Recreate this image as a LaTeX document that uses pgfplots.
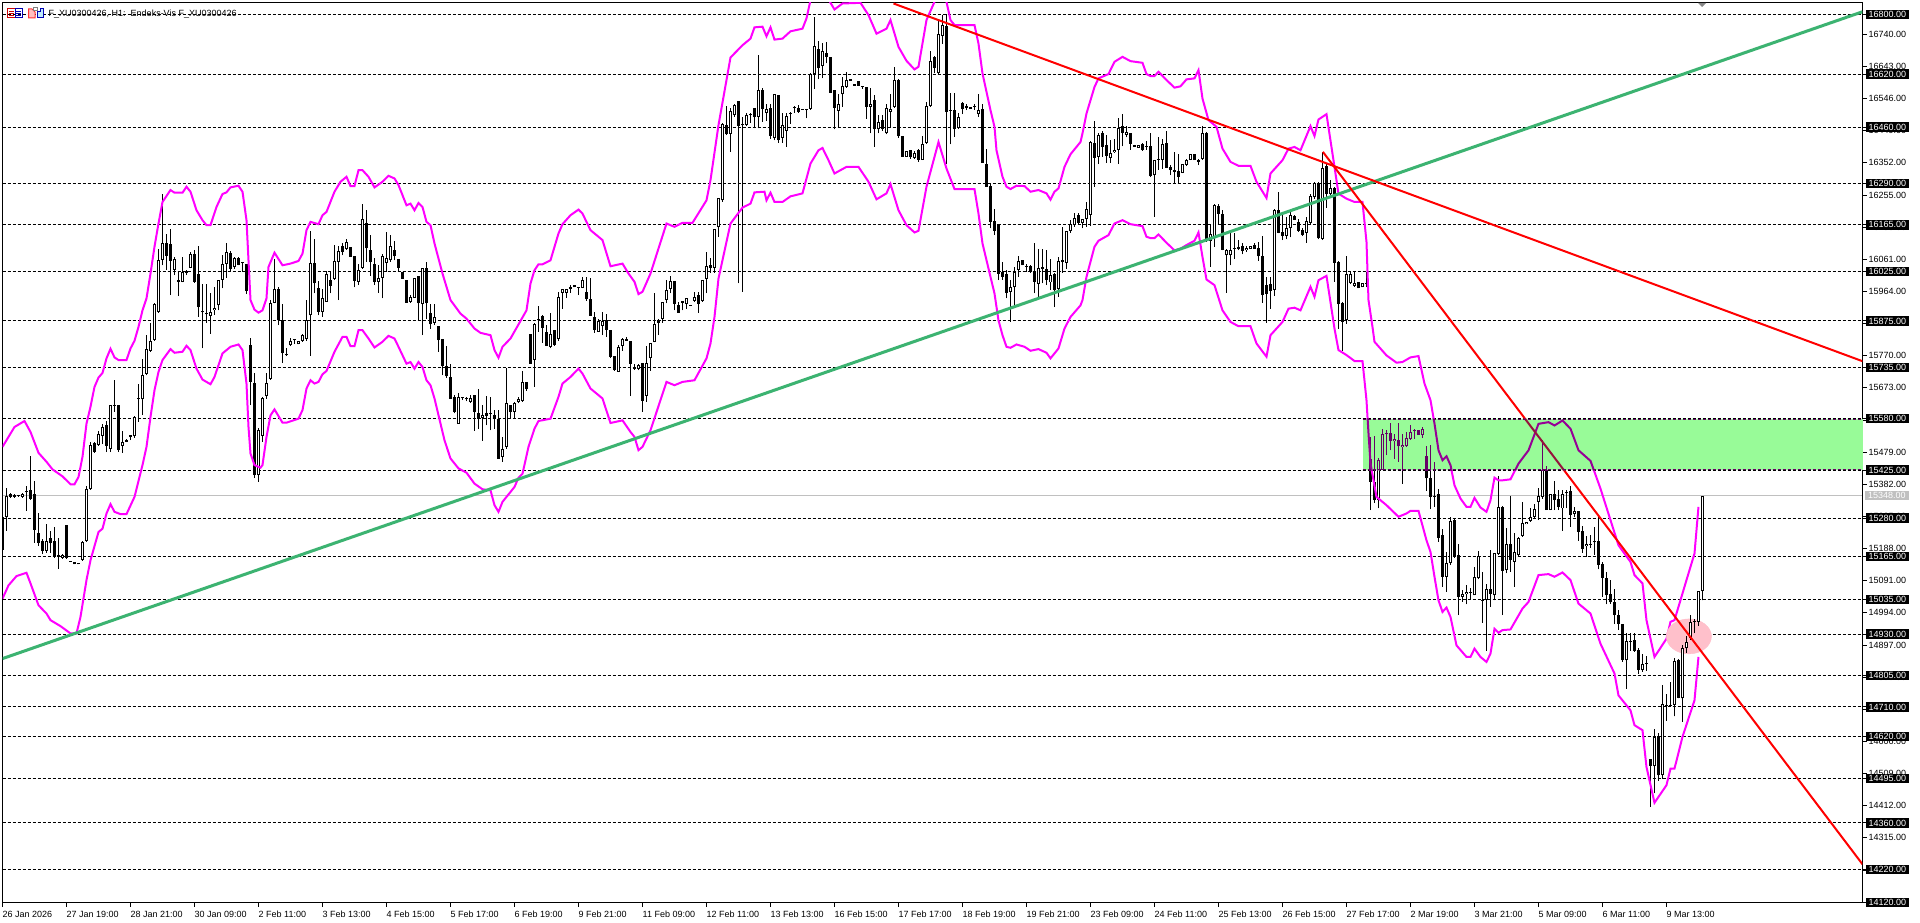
\documentclass[border=0pt]{standalone}
\usepackage{fontspec}
\setmainfont{Liberation Sans}
\usepackage{pgfplots}
\usepackage{pgfplotstable}
\pgfplotsset{compat=1.18}

\definecolor{zonegreen}{RGB}{152,251,152}
\definecolor{trendgreen}{RGB}{60,179,113}
\definecolor{bandmag}{RGB}{255,0,255}
\definecolor{pinkblob}{RGB}{255,192,203}
\definecolor{zonedark}{RGB}{102,0,102}
\definecolor{zonemag}{RGB}{150,0,150}
\definecolor{zonered}{RGB}{150,20,60}
\definecolor{lastgrey}{RGB}{192,192,192}

% bars: index open high low close
\pgfplotstableread{
i o h l c
0 15284 15299 15185 15185
1 15282 15370 15242 15347
2 15352 15356 15340 15344
3 15350 15352 15342 15344
4 15347 15348 15346 15347
5 15344 15356 15342 15353
6 15363 15377 15302 15358
7 15365 15467 15336 15339
8 15352 15391 15206 15245
9 15235 15294 15196 15206
10 15210 15218 15171 15181
11 15181 15262 15175 15210
12 15220 15240 15175 15204
13 15210 15252 15161 15163
14 15163 15220 15127 15169
15 15160 15173 15157 15169
16 15258 15258 15157 15160
17 15152 15152 15148 15148
18 15148 15148 15140 15140
19 15140 15146 15140 15146
20 15155 15212 15151 15209
21 15210 15377 15208 15367
22 15367 15511 15365 15502
23 15508 15511 15477 15480
24 15502 15544 15499 15533
25 15528 15564 15503 15554
26 15562 15572 15479 15499
27 15490 15620 15479 15620
28 15620 15697 15601 15620
29 15620 15620 15479 15485
30 15499 15544 15477 15511
31 15511 15519 15509 15517
32 15530 15532 15515 15524
33 15527 15588 15523 15586
34 15640 15684 15571 15640
35 15638 15759 15591 15711
36 15715 15832 15711 15789
37 15785 15870 15781 15813
38 15817 15928 15815 15926
39 15902 16091 15899 16060
40 16060 16257 16043 16109
41 16109 16137 16030 16072
42 16107 16151 15953 16056
43 16030 16068 16013 16063
44 16000 16026 15950 15993
45 15993 16068 15991 16022
46 16020 16030 16013 16026
47 16036 16083 16034 16078
48 16078 16088 15990 15993
49 16018 16101 15887 15917
50 15902 15986 15792 15902
51 15896 15986 15869 15896
52 15890 15958 15837 15903
53 15907 15978 15893 15915
54 15922 16000 15907 16000
55 16000 16073 15973 16048
56 16048 16109 16006 16083
57 16081 16086 16026 16032
58 16038 16068 16032 16066
59 16066 16068 16043 16045
60 16050 16050 16023 16050
61 16048 16048 15956 15966
62 15801 15823 15621 15691
63 15689 15718 15401 15410
64 15410 15553 15389 15545
65 15529 15646 15510 15642
66 15648 15718 15640 15688
67 15700 15938 15698 15930
68 15930 16061 15928 15970
69 15970 15978 15862 15877
70 15877 15926 15748 15777
71 15772 15792 15769 15772
72 15801 15825 15799 15815
73 15817 15819 15805 15817
74 15804 15815 15804 15815
75 15815 15837 15812 15834
76 15821 15938 15815 15879
77 15892 16146 15770 16051
78 16051 16122 15958 15988
79 15973 15995 15892 15902
80 15902 15970 15887 15943
81 15933 16026 15933 16018
82 15998 16026 15958 15981
83 16003 16104 16000 16056
84 16053 16101 15938 16086
85 16101 16109 16073 16083
86 16093 16122 16090 16112
87 16098 16098 16068 16068
88 16070 16070 15976 15995
89 15993 16048 15983 16030
90 16036 16229 16033 16184
91 16172 16211 16053 16094
92 16088 16134 16012 16052
93 16048 16066 15983 15992
94 15993 16043 15960 16006
95 16006 16078 15943 16070
96 16050 16143 16023 16066
97 16058 16134 16053 16101
98 16088 16117 16058 16070
99 16063 16063 16023 16036
100 16022 16022 16003 16003
101 16000 16000 15930 15930
102 15933 15953 15930 15946
103 15945 16006 15945 16006
104 16010 16010 15875 15928
105 15926 16036 15832 16036
106 16036 16052 15882 15928
107 15900 15926 15852 15865
108 15869 15926 15862 15887
109 15861 15861 15782 15817
110 15820 15822 15711 15739
111 15738 15799 15704 15708
112 15707 15746 15640 15640
113 15644 15651 15596 15600
114 15565 15658 15565 15646
115 15646 15646 15636 15641
116 15639 15646 15632 15639
117 15630 15651 15628 15642
118 15651 15651 15543 15600
119 15598 15671 15550 15580
120 15582 15621 15513 15592
121 15598 15649 15560 15588
122 15595 15646 15545 15595
123 15592 15606 15550 15579
124 15578 15606 15459 15459
125 15465 15525 15450 15490
126 15495 15734 15490 15626
127 15620 15620 15580 15600
128 15601 15631 15580 15628
129 15629 15646 15626 15639
130 15633 15723 15631 15692
131 15692 15692 15664 15669
132 15835 15835 15746 15746
133 15758 15869 15676 15865
134 15878 15919 15842 15878
135 15889 15892 15809 15853
136 15841 15862 15799 15800
137 15797 15899 15792 15837
138 15849 15849 15800 15802
139 15822 15963 15815 15946
140 15960 15970 15912 15970
141 15960 15970 15945 15970
142 15976 15983 15960 15971
143 15982 15982 15976 15976
144 15976 15978 15953 15976
145 15975 16008 15973 15998
146 15961 16008 15936 15941
147 15941 16006 15890 15890
148 15887 15902 15839 15847
149 15842 15882 15842 15875
150 15860 15902 15832 15875
151 15877 15895 15827 15849
152 15849 15849 15762 15767
153 15769 15769 15724 15726
154 15721 15802 15721 15797
155 15800 15825 15785 15820
156 15822 15827 15815 15815
157 15814 15814 15648 15746
158 15731 15746 15728 15731
159 15731 15746 15726 15741
160 15749 15749 15601 15634
161 15649 15799 15631 15749
162 15762 15807 15724 15807
163 15812 15960 15810 15867
164 15879 15882 15832 15870
165 15882 15933 15869 15931
166 15938 15998 15928 15968
167 15972 16010 15958 15995
168 15996 15996 15907 15926
169 15922 15933 15899 15899
170 15934 15934 15907 15930
171 15926 15943 15912 15943
172 15922 15922 15922 15922
173 15936 15961 15933 15948
174 15953 15963 15899 15926
175 15935 16000 15933 16000
176 16002 16083 15958 16040
177 16045 16065 16020 16035
178 16035 16151 16020 16151
179 16157 16247 16129 16247
180 16239 16471 16234 16469
181 16466 16523 16436 16438
182 16439 16519 16385 16509
183 16496 16531 16491 16526
184 16538 16538 15988 16463
185 16466 16491 15963 16466
186 16466 16501 16463 16497
187 16496 16503 16473 16496
188 16519 16519 16456 16489
189 16491 16677 16456 16571
190 16571 16579 16476 16516
191 16503 16531 16479 16515
192 16519 16529 16425 16433
193 16427 16561 16420 16561
194 16558 16558 16412 16420
195 16428 16503 16412 16466
196 16449 16503 16400 16493
197 16501 16506 16469 16501
198 16519 16523 16503 16519
199 16519 16526 16504 16506
200 16513 16513 16513 16513
201 16511 16516 16486 16516
202 16516 16624 16513 16620
203 16620 16791 16576 16706
204 16697 16720 16604 16637
205 16644 16714 16607 16690
206 16685 16718 16652 16672
207 16672 16672 16563 16563
208 16571 16571 16453 16518
209 16509 16559 16461 16531
210 16559 16610 16521 16584
211 16581 16627 16579 16601
212 16600 16606 16600 16606
213 16591 16591 16584 16584
214 16598 16598 16584 16584
215 16583 16583 16575 16583
216 16581 16581 16485 16521
217 16521 16579 16441 16531
218 16541 16556 16400 16453
219 16453 16496 16441 16476
220 16481 16496 16449 16453
221 16441 16531 16438 16519
222 16506 16561 16461 16516
223 16521 16640 16519 16602
224 16602 16604 16428 16433
225 16433 16433 16370 16370
226 16370 16388 16370 16388
227 16390 16392 16364 16370
228 16368 16388 16364 16382
229 16392 16395 16355 16362
230 16362 16433 16360 16408
231 16412 16536 16410 16525
232 16523 16690 16521 16658
233 16670 16674 16622 16638
234 16622 16783 16620 16742
235 16735 16798 16712 16768
236 16765 16801 16350 16506
237 16509 16563 16408 16509
238 16511 16563 16431 16453
239 16456 16501 16453 16489
240 16533 16536 16499 16515
241 16517 16531 16511 16523
242 16521 16521 16515 16515
243 16521 16531 16513 16521
244 16499 16561 16491 16513
245 16516 16529 16352 16352
246 16350 16395 16280 16280
247 16282 16288 16154 16174
248 16176 16214 16134 16147
249 16167 16167 15998 16018
250 16023 16053 16000 16008
251 16016 16028 15943 15960
252 15963 16000 15872 15976
253 15976 16038 15917 16022
254 16028 16070 16008 16056
255 16060 16060 16043 16043
256 16040 16048 16023 16040
257 16040 16043 16020 16023
258 16023 16111 15958 15993
259 15986 16093 15948 16036
260 16032 16093 15988 16038
261 16033 16088 15983 15998
262 15991 16063 15968 16015
263 16018 16020 15917 15968
264 15970 16068 15948 16056
265 16060 16159 16020 16052
266 16050 16147 16033 16145
267 16147 16181 16141 16167
268 16164 16202 16159 16187
269 16194 16201 16169 16172
270 16171 16184 16154 16184
271 16184 16234 16159 16214
272 16196 16418 16161 16416
273 16412 16479 16280 16368
274 16370 16443 16348 16436
275 16443 16448 16370 16400
276 16405 16436 16352 16372
277 16368 16422 16352 16382
278 16384 16425 16382 16392
279 16392 16486 16348 16456
280 16463 16499 16402 16443
281 16437 16463 16429 16445
282 16441 16441 16392 16410
283 16407 16407 16400 16400
284 16398 16407 16398 16407
285 16408 16412 16388 16392
286 16404 16418 16392 16400
287 16402 16441 16308 16312
288 16314 16362 16189 16362
289 16362 16431 16332 16362
290 16362 16425 16335 16408
291 16412 16449 16336 16338
292 16340 16345 16315 16330
293 16325 16385 16292 16330
294 16328 16378 16292 16310
295 16322 16350 16320 16348
296 16346 16365 16342 16362
297 16362 16380 16360 16378
298 16380 16380 16360 16360
299 16362 16365 16345 16356
300 16364 16463 16360 16443
301 16443 16446 16114 16119
302 16117 16169 16038 16137
303 16127 16229 16099 16226
304 16222 16227 16169 16199
305 16199 16211 16088 16090
306 16073 16093 15960 16090
307 16073 16144 16043 16088
308 16093 16139 16063 16093
309 16093 16119 16088 16098
310 16100 16109 16076 16086
311 16088 16100 16083 16096
312 16093 16102 16093 16102
313 16104 16109 16093 16093
314 16096 16114 16056 16070
315 16072 16131 15930 15953
316 15983 16008 15869 15956
317 15986 16008 15912 15966
318 15968 16214 15950 16211
319 16211 16265 16139 16141
320 16144 16199 16119 16131
321 16131 16189 16121 16154
322 16154 16214 16127 16194
323 16191 16194 16179 16181
324 16174 16184 16144 16147
325 16149 16154 16131 16135
326 16141 16189 16111 16176
327 16171 16259 16167 16251
328 16249 16295 16244 16290
329 16292 16295 16121 16124
330 16123 16385 16119 16338
331 16342 16350 16217 16258
332 16258 16300 16254 16275
333 16275 16278 15993 16050
334 16053 16056 15852 15925
335 15930 15933 15785 15872
336 15877 16070 15867 16016
337 15988 16023 15986 16018
338 15980 16023 15978 15990
339 15991 15991 15973 15973
340 15976 15988 15976 15988
341 15988 16023 15976 15988
342 15460 15525 15304 15390
343 15390 15527 15326 15334
344 15334 15463 15309 15457
345 15427 15550 15427 15533
346 15535 15545 15470 15535
347 15538 15568 15485 15513
348 15513 15535 15460 15520
349 15517 15568 15450 15497
350 15495 15533 15384 15502
351 15497 15540 15495 15523
352 15519 15561 15517 15540
353 15543 15550 15520 15543
354 15545 15545 15531 15531
355 15531 15554 15523 15548
356 15467 15499 15362 15400
357 15400 15500 15306 15344
358 15346 15450 15314 15346
359 15352 15369 15208 15221
360 15229 15246 15073 15103
361 15103 15178 15058 15146
362 15145 15282 15138 15271
363 15274 15276 15161 15163
364 15170 15201 14987 15042
365 15042 15063 15027 15052
366 15050 15078 15020 15058
367 15055 15068 15037 15055
368 15047 15133 15047 15101
369 15098 15181 15095 15165
370 15032 15118 14964 15032
371 15034 15081 14879 15065
372 15065 15185 15012 15051
373 15047 15175 15032 15175
374 15171 15407 15168 15314
375 15314 15316 14987 15121
376 15123 15249 15113 15201
377 15201 15346 15118 15153
378 15148 15234 15073 15178
379 15168 15223 15165 15220
380 15226 15329 15224 15266
381 15261 15269 15261 15269
382 15272 15312 15269 15282
383 15284 15322 15276 15306
384 15329 15372 15274 15346
385 15344 15515 15338 15427
386 15427 15437 15304 15304
387 15304 15354 15304 15354
388 15352 15393 15304 15334
389 15337 15366 15304 15314
390 15309 15366 15242 15354
391 15356 15366 15309 15356
392 15361 15376 15254 15289
393 15292 15314 15282 15300
394 15300 15300 15211 15239
395 15240 15256 15175 15188
396 15195 15226 15163 15203
397 15201 15229 15191 15201
398 15208 15252 15168 15208
399 15211 15282 15125 15139
400 15143 15148 15042 15100
401 15098 15118 15020 15047
402 15051 15093 15022 15026
403 15028 15065 14960 14987
404 14989 15004 14942 14960
405 14959 14959 14846 14853
406 14851 14932 14765 14908
407 14907 14932 14879 14907
408 14912 14932 14876 14879
409 14881 14889 14809 14821
410 14821 14869 14816 14839
411 14841 14863 14819 14841
412 14552 14552 14409 14533
413 14531 14645 14449 14620
414 14622 14632 14487 14504
415 14504 14776 14494 14719
416 14713 14749 14668 14713
417 14713 14786 14710 14713
418 14717 14859 14682 14849
419 14851 14856 14736 14738
420 14736 14897 14665 14887
421 14887 14924 14873 14907
422 14917 14987 14912 14965
423 14967 14977 14932 14967
424 14967 15061 14954 15059
425 15060 15347 15032 15347
}\bars

% upper band
\pgfplotstableread{
i p
0 15495
1.5 15525
3 15555
5.5 15573
7 15540
9 15477
11 15450
12.5 15427
15 15406
17 15382
18 15382
19 15404
20 15465
21 15565
22 15616
23 15676
24 15704
25 15718
26 15762
27 15791
28 15765
29 15757
31 15757
32 15792
33 15815
34 15857
35 15907
36 15943
37 16018
38 16099
39 16169
40 16234
42 16270
43 16262
45 16262
46 16280
47 16265
48.5 16209
50 16179
51 16164
52 16164
53.5 16219
55 16258
56 16263
57 16278
59 16283
60 16265
61 16179
61.5 16058
62 15938
63 15909
64 15900
65 15907
66 15943
66.5 16038
68 16081
70 16043
72 16048
74 16056
75 16078
76 16149
77 16174
79 16167
80 16194
81 16204
83 16265
84.5 16295
86 16310
87 16282
88 16282
89 16330
90 16330
91.5 16310
93 16278
95 16295
96.5 16313
98 16305
99 16285
101 16224
102 16229
103 16209
104 16231
105 16219
106 16174
107 16164
108 16109
110 16018
112 15938
114.5 15897
116 15882
118 15852
119.5 15839
122 15832
123 15787
124 15764
125 15797
127 15822
129.5 15875
131 15907
132 15988
133 16028
134 16046
135 16046
137 16058
139 16139
140 16167
142 16194
144 16211
145 16199
147 16149
148.5 16134
150 16119
152 16040
155 16048
156.5 16018
158 15993
159 15956
160 15963
162 16018
166 16169
168 16159
170 16171
172.5 16171
176 16239
177 16300
179 16466
182 16670
185 16707
187 16727
188 16761
190 16763
191 16734
192 16761
193 16724
195 16727
197 16749
200 16757
201 16788
202 16843
203 16900
205 16880
207 16835
208 16815
210 16833
214.5 16835
216.5 16798
218.5 16742
221 16757
222 16783
224 16702
226 16660
228 16634
229 16642
231 16783
233 16838
234.5 16860
236 16838
237 16783
238 16768
240 16768
243 16768
244 16712
245 16622
247 16511
248 16461
248.5 16390
250 16310
251 16280
252 16273
253.5 16283
255.5 16282
257 16265
259 16270
261 16260
262 16241
263 16265
264 16275
265.5 16340
267 16378
269.5 16415
270 16441
271 16501
273 16581
274 16607
276.5 16620
278 16657
280 16672
282 16659
285 16654
286 16620
287 16614
288 16614
289 16627
291 16602
293 16579
294.5 16583
296 16604
298 16607
299 16632
300 16546
301.5 16481
303.5 16461
305 16395
307 16355
309 16343
312 16343
313.5 16295
316 16246
317 16320
320 16360
321.5 16395
323 16400
324.5 16390
327 16463
328 16433
329 16483
331 16499
333 16340
334 16259
336 16244
338 16234
340 16234
341 16114
341.5 15938
342.5 15857
343 15812
346 15771
348.5 15749
350 15751
352 15765
354 15769
355.5 15686
357 15636
358 15565
359 15485
360 15455
361 15467
362 15440
363 15379
364.5 15339
366 15314
367 15314
368 15341
369.5 15312
371 15299
372 15334
373 15402
374 15394
375 15394
377 15397
379 15445
381.5 15485
384 15565
386.5 15570
388 15560
390 15575
392 15550
394 15485
397 15453
399.5 15369
402 15274
404 15198
407 15148
408 15108
410 15083
411 14972
413 14861
416 14916
417 14967
418 14972
421 15093
423 15173
424 15314
}\upperband

% lower band
\pgfplotstableread{
i p
0 15037
1.5 15077
3.5 15105
6 15115
7 15083
9 15017
11 14992
12 14972
14.5 14954
17 14932
18.5 14932
19.5 14982
21 15093
22 15153
24 15238
25 15248
26 15294
27 15322
28 15299
29.5 15292
31 15292
33 15344
35 15440
36 15495
37 15585
38 15666
39 15721
40 15757
42 15790
43 15779
45 15782
46 15800
47 15787
48.5 15731
50 15698
52 15684
53 15706
55 15777
57 15797
59 15804
60 15787
61 15686
61.5 15555
62 15475
63 15440
64.5 15432
65 15440
66 15525
67 15590
68 15608
70 15568
71 15568
74 15580
75 15606
76 15671
77 15696
78 15686
79 15691
80 15714
81 15724
83 15782
85 15827
86 15827
87 15799
88 15799
89 15847
90 15847
91.5 15822
93 15795
95 15812
96.5 15830
98 15822
99 15797
101 15746
102 15751
103 15731
104 15751
105 15736
106 15696
107 15681
108 15641
110.5 15515
112 15460
114 15430
116 15417
118 15384
120 15367
122 15364
123 15319
124 15299
125 15329
128 15374
129 15402
130 15414
131.5 15495
133 15550
134 15573
137 15580
139 15646
140 15686
142 15706
144 15731
145 15716
147 15671
148.5 15656
150 15641
152 15567
155 15575
157 15540
158 15525
159 15485
160 15495
162 15545
166 15691
168 15681
170 15691
173 15696
176 15762
177 15807
178 15887
179 16003
182 16169
185 16217
187 16229
188 16263
190.5 16265
191 16239
192 16262
193 16234
195 16234
197 16251
200 16260
202 16350
204 16390
205 16397
206.5 16360
208 16320
211 16340
214 16340
216.5 16295
218.5 16242
221 16260
222 16288
224 16209
226 16164
228 16142
229 16147
231 16280
234 16415
236 16335
238 16273
240 16273
243 16273
244 16199
245 16109
247 16008
248 15958
249 15877
250 15832
251 15797
252 15794
253.5 15804
255.5 15797
257 15785
259 15790
261 15779
262 15762
264 15792
265.5 15852
267 15887
269.5 15922
270 15938
271 16008
273 16099
274 16117
276.5 16134
278 16169
280 16179
282 16167
285 16161
286 16129
287 16125
288 16125
289 16136
291 16111
293 16088
294.5 16093
296 16104
298 16117
299 16142
300 16068
301 16000
303 15983
305 15907
307 15872
309 15859
312 15859
313.5 15807
316 15767
317 15832
320 15872
321.5 15912
323 15915
324.5 15907
327 15978
328 15948
329 15998
331 16011
333 15852
334 15787
336 15772
338 15754
340 15754
341 15636
341.5 15535
342 15445
343.5 15344
346 15319
349 15284
351 15294
352 15302
354 15302
356 15213
357 15178
358 15103
359 15032
360 14997
361 15010
362 14982
363.5 14896
366 14861
367 14861
368 14886
369.5 14861
371 14846
372 14871
373 14946
374 14934
375 14942
377 14944
380 15007
381.5 15027
384 15108
386.5 15111
388 15103
390 15116
392 15093
394 15022
397 14992
399.5 14901
403 14811
404 14745
407 14700
408 14655
410 14640
411 14529
413 14421
416 14474
417 14524
418 14524
420 14620
423 14730
424 14861
}\lowerband

% one stroked path per layer keeps TeX's memory in bounds:
% the table rows are turned into jump-separated coordinate lists
\newcount\barrow
\newcommand{\collectbars}[5]{%
  \gdef#3{}\gdef#4{}\gdef#5{}%
  \barrow=#1\relax
  \loop
    \pgfplotstablegetelem{\the\barrow}{i}\of\bars\edef\rI{\pgfplotsretval}%
    \pgfplotstablegetelem{\the\barrow}{o}\of\bars\edef\rO{\pgfplotsretval}%
    \pgfplotstablegetelem{\the\barrow}{h}\of\bars\edef\rH{\pgfplotsretval}%
    \pgfplotstablegetelem{\the\barrow}{l}\of\bars\edef\rL{\pgfplotsretval}%
    \pgfplotstablegetelem{\the\barrow}{c}\of\bars\edef\rC{\pgfplotsretval}%
    \ifnum\rO>\rC\relax\edef\rT{\rO}\edef\rB{\rC}\else\edef\rT{\rC}\edef\rB{\rO}\fi
    \ifnum\numexpr\rT-\rB\relax<3
      \edef\rT{\the\numexpr\rB+2\relax}\edef\rB{\the\numexpr\rB-1\relax}%
    \fi
    \xdef#3{#3(\rI,\rL)(\rI,\rH)(\rI,nan)}%
    \xdef#4{#4(\rI,\rB)(\rI,\rT)(\rI,nan)}%
    \ifnum\rC>\rO\relax
      \ifnum\numexpr\rC-\rO\relax>6
        \xdef#5{#5(\rI,\the\numexpr\rO+3\relax)(\rI,\the\numexpr\rC-3\relax)(\rI,nan)}%
      \fi
    \fi
    \advance\barrow by 1
  \ifnum\barrow<\numexpr#2+1\relax
  \repeat}
\collectbars{0}{425}{\wickAll}{\bodyAll}{\innerAll}
\collectbars{342}{425}{\wickZone}{\bodyZone}{\innerZone}
\collectbars{418}{425}{\wickEnd}{\bodyEnd}{\innerEnd}

% #1 style, #2 list
\newcommand{\strokelist}[2]{%
  \edef\tmpplot{\noexpand\addplot[#1, forget plot, mark=none, unbounded coords=jump, filter discard warning=false] coordinates {#2};}%
  \tmpplot}
% #1 outline colour, #2 inside of rising bars, #3 wicks, #4 bodies, #5 insides
\newcommand{\candles}[5]{%
  \strokelist{#1, line width=1pt}{#3}%
  \strokelist{#1, line width=3pt}{#4}%
  \strokelist{#2, line width=1pt}{#5}%
}

\begin{document}
\begin{tikzpicture}[x=1pt,y=1pt]
\useasboundingbox (0,0) rectangle (1920,923);
\fill[white] (0,0) rectangle (1920,923);

\begin{axis}[
    at={(2.5pt,20.5pt)}, anchor=south west,
    scale only axis, width=1860pt, height=900pt,
    xmin=0, xmax=465, ymin=14120, ymax=16836,
    clip marker paths=true,
    axis line style={line width=1pt, black},
    xtick pos=bottom, ytick pos=right, yticklabel pos=right,
    tick align=outside, major tick length=4.5pt,
    tick style={line width=1pt, black},
    xtick={0,16,...,416},
    xticklabels={26 Jan 2026,27 Jan 19:00,28 Jan 21:00,30 Jan 09:00,2 Feb 11:00,3 Feb 13:00,4 Feb 15:00,5 Feb 17:00,6 Feb 19:00,9 Feb 21:00,11 Feb 09:00,12 Feb 11:00,13 Feb 13:00,16 Feb 15:00,17 Feb 17:00,18 Feb 19:00,19 Feb 21:00,23 Feb 09:00,24 Feb 11:00,25 Feb 13:00,26 Feb 15:00,27 Feb 17:00,2 Mar 19:00,3 Mar 21:00,5 Mar 09:00,6 Mar 11:00,9 Mar 13:00},
    xticklabel style={anchor=north west, inner xsep=0pt, inner ysep=0pt, yshift=-4pt, font=\fontsize{9}{10}\selectfont},
    ytick={16740,16643,16546,16449,16352,16255,16158,16061,15964,15867,15770,15673,15576,15479,15382,15285,15188,15091,14994,14897,14800,14703,14606,14509,14412,14315,14218},
    scaled y ticks=false,
    /pgf/number format/fixed,
    /pgf/number format/fixed zerofill,
    /pgf/number format/precision=2,
    /pgf/number format/1000 sep={},
    /pgf/number format/assume math mode=true,
    yticklabel style={anchor=west, inner xsep=1.5pt, inner ysep=0pt, font=\fontsize{9}{10}\selectfont},
    extra y ticks={16800,16620,16460,16290,16165,16025,15875,15735,15580,15425,15280,15165,15035,14930,14805,14710,14620,14495,14360,14220,14120},
    extra y tick style={
      grid=major,
      major grid style={black, line width=1pt, dash pattern=on 3pt off 2pt},
      yticklabel style={anchor=west, fill=black, text=white, inner xsep=3pt, inner ysep=1.5pt, xshift=-1.5pt, font=\fontsize{9}{10}\selectfont},
    },
]
% last price line
\addplot[lastgrey, line width=1pt, forget plot] coordinates {(0,15348) (465,15348)};

\candles{black}{white}{\wickAll}{\bodyAll}{\innerAll}

\addplot[bandmag, line width=2pt, forget plot] table[x=i, y=p] {\upperband};
\addplot[bandmag, line width=2pt, forget plot] table[x=i, y=p] {\lowerband};

% pink circle object, then the bars that show through it
\addplot[only marks, mark=*, mark size=17.5pt, forget plot,
    mark options={xscale=1.29, fill=pinkblob, draw=pinkblob}] coordinates {(421.6,14923)};
\candles{black}{white}{\wickEnd}{\bodyEnd}{\innerEnd}

% trend lines
\addplot[trendgreen, line width=3pt, forget plot] coordinates {(0,14856) (465,16808)};
\addplot[red, line width=2pt, forget plot] coordinates {(222.75,16833) (465,15753.5)};
\addplot[red, line width=2pt, forget plot] coordinates {(330.1,16385.3) (465,14235.4)};
\end{axis}

% the green zone, drawn over the chart with its colours changed inside
\begin{axis}[
    at={(1362.5pt,452.8pt)}, anchor=south west,
    scale only axis, width=500pt, height=51.34pt,
    xmin=340, xmax=465, ymin=15425, ymax=15580,
    ticks=none, axis line style={draw=none},
    axis background/.style={fill=zonegreen},
]
\candles{zonedark}{zonegreen}{\wickZone}{\bodyZone}{\innerZone}
\addplot[zonemag, line width=2pt, forget plot] table[x=i, y=p] {\upperband};
\addplot[zonemag, line width=2pt, forget plot] table[x=i, y=p] {\lowerband};
\addplot[zonered, line width=2pt, forget plot] coordinates {(330.1,16385.3) (465,14235.4)};
\addplot[zonedark, line width=1pt, dash pattern=on 3pt off 2pt, forget plot] coordinates {(340,15579) (465,15579)};
\addplot[zonedark, line width=1pt, dash pattern=on 3pt off 2pt, forget plot] coordinates {(340,15426) (465,15426)};
\end{axis}

% last price label and marker
\node[anchor=west, fill=lastgrey, text=white, inner xsep=3pt, inner ysep=1.5pt, font=\fontsize{9}{10}\selectfont] at (1865,427.2) {15348.00};
\fill[lastgrey!70!black] (1698,920) -- (1706,920) -- (1702,916) -- cycle;

% chart header
\node[anchor=west, inner sep=0pt, font=\fontsize{9}{10}\selectfont] at (48.5,909) {F\_XU0300426, H1:\ \ Endeks-Vis F\_XU0300426};
\draw[red!80!black, line width=1pt] (7.5,905) rectangle (15,914);
\draw[red!80!black, line width=1pt] (9,911.5) -- (14,911.5) (9,909.5) -- (14,909.5) (9,907.5) -- (14,907.5);
\draw[blue!70!black, line width=1pt] (15,905) rectangle (22,914);
\draw[blue!70!black, line width=1pt] (16,911.5) -- (21,911.5) (16,909.5) -- (21,909.5) (16,907.5) -- (21,907.5);
\filldraw[fill=red!25, draw=red!80, line width=1pt] (28.5,905) -- (28.5,914) -- (32,914) -- (35,911) -- (35,905) -- cycle;
\filldraw[fill=cyan!25, draw=blue!70!black, line width=1pt] (37,905) -- (37,911) -- (40,911) -- (40,914) -- (43,914) -- (43,905) -- cycle;
\draw[gray, line width=1pt] (33,912) rectangle (37.5,915);
\end{tikzpicture}
\end{document}
